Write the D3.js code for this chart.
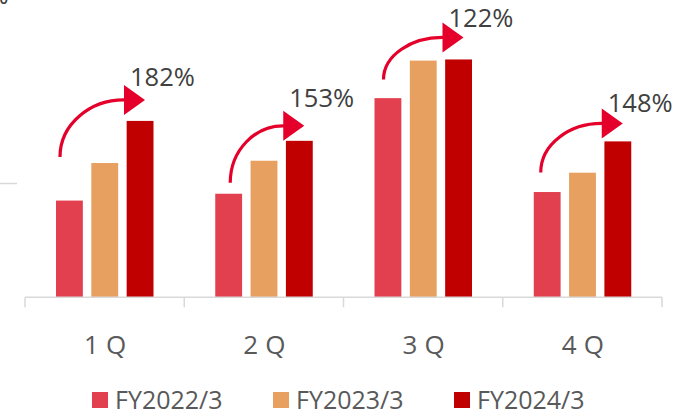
<!DOCTYPE html>
<html>
<head>
<meta charset="utf-8">
<script src="https://cdn.jsdelivr.net/npm/d3@7"></script>
<style>
  html, body { margin: 0; padding: 0; background: #fff; }
  svg { display: block; font-family: "Open Sans", "Noto Sans", sans-serif; }
</style>
</head>
<body>
<svg id="chart" width="679" height="411"></svg>
<script>
var quarters = ["1Q", "2Q", "3Q", "4Q"];
var seriesNames = ["FY2022/3", "FY2023/3", "FY2024/3"];
var fy2022 = [85, 91, 175, 92.5];
var fy2023 = [118, 120, 208, 109.5];
var fy2024 = [155, 137.5, 209, 137];
var growthLabels = ["182%", "153%", "122%", "148%"];

// hand placed arrow shapes (width, rise, lift above the FY2024 bar, label rise)
var arcWidth = [64, 53, 59, 61];
var arcRise = [57, 57, 42, 49];
var arrowLift = [21, 15, 22, 18];
var labelRise = [14, 19, 10, 11];

var colors = ["#e2404e", "#e8a060", "#c00000"];
var arrowColor = "#e4002b";

var svg = d3.select("#chart");

var x = d3.scaleBand().domain(quarters).range([25, 662]).padding(0);
var inner = d3.scaleBand().domain(seriesNames).range([31, 128.5]).paddingInner(0.24);
var y = d3.scaleLinear().domain([0, 100]).range([297.3, 183.5]);

var series = [fy2022, fy2023, fy2024];

// short gridline stub on the left
svg.append("line")
  .attr("x1", 0).attr("x2", 17)
  .attr("y1", y(100)).attr("y2", y(100))
  .attr("stroke", "#d9d9d9").attr("stroke-width", 1.5);

// cut-off label at the very top
svg.append("text")
  .attr("x", -12).attr("y", 4)
  .attr("font-size", 25).attr("fill", "#404040")
  .text("%");

// bars
series.forEach(function(vals, s) {
  svg.selectAll("rect.s" + s)
    .data(vals)
    .enter()
    .append("rect")
    .attr("class", "s" + s)
    .attr("x", function(d, i) { return x(quarters[i]) + inner(seriesNames[s]); })
    .attr("y", function(d) { return y(d); })
    .attr("width", inner.bandwidth())
    .attr("height", function(d) { return y(0) - y(d); })
    .attr("fill", colors[s]);
});

// x axis
var axis = svg.append("g");
axis.append("line")
  .attr("x1", 25).attr("x2", 662)
  .attr("y1", y(0)).attr("y2", y(0))
  .attr("stroke", "#d9d9d9").attr("stroke-width", 1.5);
var ticks = x.domain().map(function(q) { return x(q); }).concat([x.range()[1]]);
axis.selectAll("line.tick")
  .data(ticks)
  .enter()
  .append("line")
  .attr("class", "tick")
  .attr("x1", function(d) { return d; }).attr("x2", function(d) { return d; })
  .attr("y1", y(0)).attr("y2", y(0) + 10)
  .attr("stroke", "#d9d9d9").attr("stroke-width", 1.5);
axis.selectAll("text")
  .data(quarters)
  .enter()
  .append("text")
  .attr("x", function(d) { return x(d) + x.bandwidth() / 2 + 4; })
  .attr("y", 354)
  .attr("text-anchor", "middle")
  .attr("font-size", 26)
  .attr("letter-spacing", 7)
  .attr("fill", "#595959")
  .text(function(d) { return d; });

// growth arrows
quarters.forEach(function(q, i) {
  var bx = x(q) + 99;
  var cy = y(fy2024[i]) - arrowLift[i];
  var sx = bx - arcWidth[i];
  var sy = cy + arcRise[i];
  svg.append("path")
    .attr("d", "M" + sx + "," + sy + " A" + arcWidth[i] + "," + arcRise[i] + " 0 0 1 " + (bx + 2) + "," + cy)
    .attr("fill", "none")
    .attr("stroke", arrowColor)
    .attr("stroke-width", 3.2);
  svg.append("path")
    .attr("d", "M" + bx + "," + (cy - 15) + " L" + (bx + 21) + "," + cy + " L" + bx + "," + (cy + 15) + " Z")
    .attr("fill", arrowColor);
  svg.append("text")
    .attr("x", bx + 6)
    .attr("y", cy - labelRise[i])
    .attr("font-size", 25.5)
    .attr("fill", "#404040")
    .text(growthLabels[i]);
});

// legend
var legend = svg.append("g");
seriesNames.forEach(function(name, i) {
  var lx = 92 + i * 181;
  legend.append("rect")
    .attr("x", lx).attr("y", 392)
    .attr("width", 16).attr("height", 16)
    .attr("fill", colors[i]);
  legend.append("text")
    .attr("x", lx + 23).attr("y", 408.5)
    .attr("font-size", 25)
    .attr("fill", "#595959")
    .text(name);
});
</script>
</body>
</html>
